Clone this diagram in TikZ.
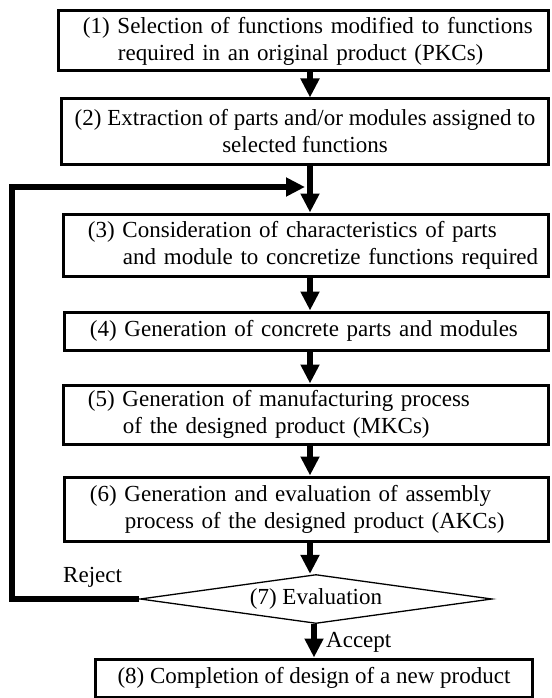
\documentclass[tikz,border=0pt]{standalone}
\usepackage{fontspec}
\setmainfont{Liberation Serif}
\usetikzlibrary{arrows.meta,shapes.geometric}

\begin{document}
\begin{tikzpicture}[x=1bp,y=-1bp,
  font=\fontsize{23bp}{27bp}\selectfont,
  stage/.style={draw, rectangle, line width=3bp, inner ysep=0pt},
  leftstage/.style={stage, align=left},
  midstage/.style={stage, align=center},
  decision/.style={draw, diamond, line width=1.3bp, aspect=7.2, inner sep=0pt},
  flow/.style={line width=5.5bp, line join=miter, -{Triangle[width=18bp,length=19bp]}},
  tag/.style={anchor=base west, inner sep=0pt}]

\useasboundingbox (0,0) rectangle (552,698);
\fill[white] (0,0) rectangle (552,698);

% process steps
\node[leftstage, minimum width=489bp, minimum height=60bp, inner xsep=24bp, text width=441bp]
  (b1) at (303.5,41)
  {\mbox{(1) Selection of functions modified to functions}\\
   \mbox{\hspace*{35bp}required in an original product (PKCs)}};
\node[midstage, minimum width=486bp, minimum height=65bp]
  (b2) at (305,131.5)
  {(2) Extraction of parts and/or modules assigned to\\ selected functions};
\node[leftstage, minimum width=484bp, minimum height=62bp, inner xsep=24bp, text width=436bp]
  (b3) at (306,245)
  {\mbox{(3) Consideration of characteristics of parts}\\
   \mbox{\hspace*{35bp}and module to concretize functions required}};
\node[leftstage, minimum width=483bp, minimum height=38bp, inner xsep=25bp, text width=433bp]
  (b4) at (306.5,331)
  {\mbox{(4) Generation of concrete parts and modules}};
\node[leftstage, minimum width=484bp, minimum height=59bp, inner xsep=24bp, text width=436bp]
  (b5) at (306,414.5)
  {\mbox{(5) Generation of manufacturing process}\\
   \mbox{\hspace*{35bp}of the designed product (MKCs)}};
\node[leftstage, minimum width=483bp, minimum height=64bp, inner xsep=25bp, text width=433bp]
  (b6) at (306.5,509)
  {\mbox{(6) Generation and evaluation of assembly}\\
   \mbox{\hspace*{35bp}process of the designed product (AKCs)}};
\node[decision, minimum width=352bp, minimum height=49bp]
  (d7) at (316,599) {(7) Evaluation};
\node[midstage, minimum width=436bp, minimum height=38bp]
  (b8) at (314,678) {(8) Completion of design of a new product};

% connector guides
\coordinate (col) at (310,0);
\coordinate (accx) at (314,0);
\coordinate (lx) at (12,187);
\coordinate (merge) at (305,187);

% main flow
\draw[flow] (b1.south -| col) -- (b2.north -| col);
\draw[flow] (b2.south -| col) -- (b3.north -| col);
\draw[flow] (b3.south -| col) -- (b4.north -| col);
\draw[flow] (b4.south -| col) -- (b5.north -| col);
\draw[flow] (b5.south -| col) -- (b6.north -| col);
\draw[flow] (b6.south -| col) -- (d7.north -| col);
\draw[flow] (d7.south -| accx) -- (b8.north -| accx);

% feedback loop
\draw[flow] (d7.west) -| (lx) -- (merge);

% branch labels
\node[tag] (rej) at (63,582) {Reject};
\node[tag] (acc) at (326,647) {Accept};
\end{tikzpicture}
\end{document}
